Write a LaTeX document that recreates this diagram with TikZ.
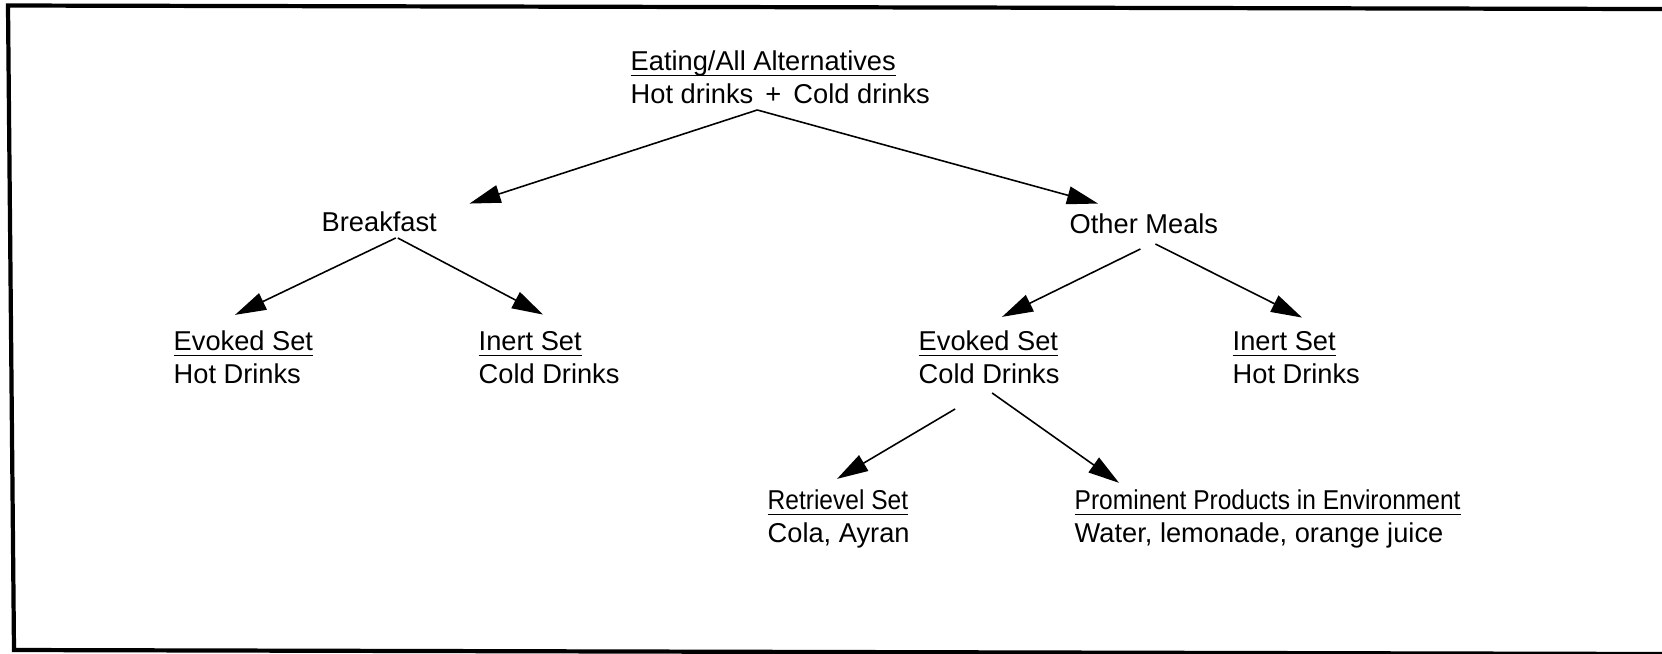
\documentclass[tikz,border=0pt]{standalone}
\usepackage{fontspec}
\usepackage{graphicx}
\setmainfont{Liberation Sans}
\usetikzlibrary{arrows.meta}

% underline at a fixed depth (ignores descenders)
\newcommand{\ul}[1]{\underline{\raisebox{0pt}[\height][0pt]{#1}}}
% condensed underlined title (lowest level)
\newcommand{\ulc}[1]{\ul{\scalebox{0.9}[1]{#1}}}

\begin{document}
\begin{tikzpicture}[
  x=0.01cm, y=-0.01cm,
  font=\fontsize{7.75}{9.3}\selectfont,
  >={Triangle[length=3.1mm,width=1.8mm]},
  set/.style={align=left, inner sep=0pt, anchor=base west},
  branch/.style={->, line width=0.45pt},
  frame/.style={line width=1.2pt},
]

% --- fixed bounding box (white background) ---
\fill[white] (0,0) rectangle (1662,653);
\useasboundingbox (0,0) rectangle (1662,653);

% --- open frame (left, top, bottom) ---
\draw[frame] (1662,9) -- (8,5.5) -- (14,650) -- (1662,654);

% ============================ NODES =================================
% (multi-line nodes: base = baseline of the last line)
% Level 0
\node[set] (all) at (630,103)
  {\ul{Eating/All Alternatives}\\Hot drinks \,+\, Cold drinks};

% Level 1
\node[set] (brk) at (321,231) {Breakfast};
\node[set] (oth) at (1069,233) {Other Meals};

% Level 2
\node[set] (evA) at (173,383) {\ul{Evoked Set}\\Hot Drinks};
\node[set] (inA) at (478,383) {\ul{Inert Set}\\Cold Drinks};
\node[set] (evB) at (918,383) {\ul{Evoked Set}\\Cold Drinks};
\node[set] (inB) at (1232,383) {\ul{Inert Set}\\Hot Drinks};

% Level 3
\node[set] (retr) at (767,542) {\ulc{Retrievel Set}\\Cola, Ayran};
\node[set] (prom) at (1074,542)
  {\ulc{Prominent Products in Environment}\\Water, lemonade, orange juice};

% ============================ EDGES =================================
\draw[branch] ([xshift=-0.23cm,yshift=-0.06cm]all.south)
  -- ([xshift=0.32cm,yshift=0.07cm]brk.north east);
\draw[branch] ([xshift=-0.23cm,yshift=-0.06cm]all.south)
  -- ([xshift=0.29cm,yshift=0.09cm]oth.north west);

\draw[branch] ([xshift=0.165cm,yshift=-0.06cm]brk.south)
  -- ([xshift=0.62cm,yshift=0.15cm]evA.north west);
\draw[branch] ([xshift=0.185cm,yshift=-0.06cm]brk.south)
  -- ([xshift=0.65cm,yshift=0.16cm]inA.north west);

\draw[branch] ([xshift=-0.035cm,yshift=-0.15cm]oth.south)
  -- ([xshift=0.84cm,yshift=0.13cm]evB.north west);
\draw[branch] ([xshift=0.115cm,yshift=-0.10cm]oth.south)
  -- ([xshift=0.70cm,yshift=0.13cm]inB.north west);

\draw[branch] ([xshift=-0.34cm,yshift=-0.25cm]evB.south)
  -- ([xshift=0.70cm,yshift=0.10cm]retr.north west);
\draw[branch] ([xshift=0.03cm,yshift=-0.09cm]evB.south)
  -- ([xshift=0.45cm,yshift=0.06cm]prom.north west);

\end{tikzpicture}
\end{document}
